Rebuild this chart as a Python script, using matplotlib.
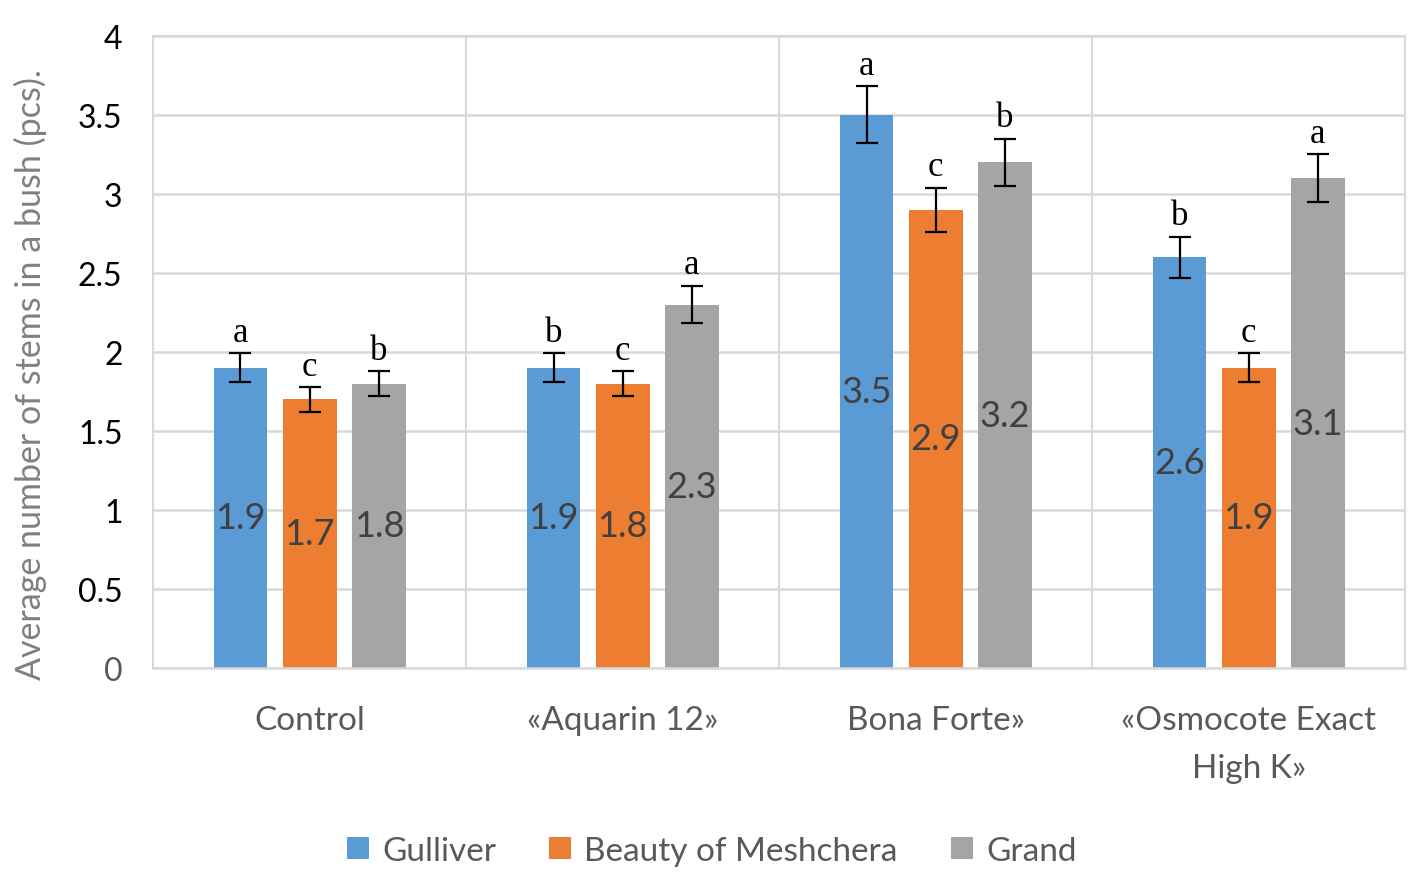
import matplotlib.pyplot as plt
import numpy as np

categories = ['Control', '«Aquarin 12»', 'Bona Forte»', '«Osmocote Exact\nHigh K»']
series_names = ['Gulliver', 'Beauty of Meshchera', 'Grand']
values = [
    [1.9, 1.9, 3.5, 2.6],   # Gulliver
    [1.7, 1.8, 2.9, 1.9],   # Beauty of Meshchera
    [1.8, 2.3, 3.2, 3.1],   # Grand
]
errors = [
    [0.09, 0.09, 0.18, 0.13],
    [0.08, 0.08, 0.14, 0.09],
    [0.08, 0.12, 0.15, 0.15],
]
letters = [
    ['a', 'b', 'a', 'b'],
    ['c', 'c', 'c', 'c'],
    ['b', 'a', 'b', 'a'],
]
colors = ['#5b9bd5', '#ed7d31', '#a5a5a5']

plt.rcParams['font.family'] = ['Lato', 'DejaVu Sans']

fig = plt.figure(figsize=(14.18, 8.79), dpi=100)
ax = fig.add_axes([0.108, 0.239, 0.883, 0.719])

x = np.arange(len(categories))
width = 0.172
offsets = [-0.221, 0.0, 0.221]

for i, name in enumerate(series_names):
    pos = x + offsets[i]
    ax.bar(pos, values[i], width, color=colors[i], label=name, zorder=2)
    ax.errorbar(pos, values[i], yerr=errors[i], fmt='none', ecolor='black',
                elinewidth=1.6, capsize=8, capthick=1.6, zorder=3)
    for xp, v, e, let in zip(pos, values[i], errors[i], letters[i]):
        ax.text(xp, v / 2, f'{v}', ha='center', va='center', fontsize=26,
                color='#404040', zorder=4)
        ax.annotate(let, (xp, v + e), xytext=(0, 3), textcoords='offset points',
                    ha='center', va='bottom', fontsize=25, family='Liberation Serif',
                    color='black')

ax.set_xlim(-0.5, len(categories) - 0.5)
ax.set_ylim(0, 4)
ax.set_yticks(np.arange(0, 4.01, 0.5))
ax.set_yticklabels(['0', '0.5', '1', '1.5', '2', '2.5', '3', '3.5', '4'])
ax.set_xticks(x)
ax.set_xticklabels(categories, fontsize=24, color='#595959', linespacing=1.75)
ax.tick_params(axis='y', labelsize=23, colors='black', length=0, pad=22)
ax.tick_params(axis='x', length=0, pad=27)
ax.get_yticklabels()[0].set_color('#595959')

ax.grid(axis='y', color='#d9d9d9', linewidth=1.8, zorder=0)
for b in np.arange(0.5, len(categories) - 0.5, 1.0):
    ax.axvline(b, color='#d9d9d9', linewidth=1.5, zorder=0)
for side in ['top', 'right', 'left']:
    ax.spines[side].set_color('#d9d9d9')
    ax.spines[side].set_linewidth(1.5)
ax.spines['bottom'].set_color('#d9d9d9')
ax.spines['bottom'].set_linewidth(1.8)

ax.set_ylabel('Average number of stems in a bush (pcs).', fontsize=24.5,
              color='#808080', va='center')
ax.yaxis.set_label_coords(-0.098, 0.465)

fig.legend(loc='center', bbox_to_anchor=(0.502, 1 - 852 / 879), ncol=3, frameon=False,
           fontsize=24, labelcolor='#595959', handlelength=0.65, handleheight=0.65,
           columnspacing=1.6, handletextpad=0.4)

plt.savefig('out.png', dpi=100)
plt.close()
